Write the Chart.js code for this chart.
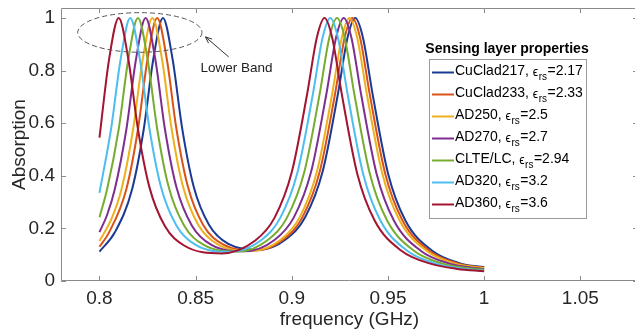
<!DOCTYPE html>
<html>
<head>
<meta charset="utf-8">
<script src="https://cdn.jsdelivr.net/npm/chart.js@4.4.0/dist/chart.umd.min.js"></script>
<style>
  html, body { margin: 0; padding: 0; background: #fff; overflow: hidden; }
  #wrap { width: 640px; height: 334px; position: relative; }
</style>
</head>
<body>
<div id="wrap"><canvas id="absChart"></canvas></div>
<script>
// sensing layers (legend order)
const names = ['CuClad217', 'CuClad233', 'AD250', 'AD270', 'CLTE/LC', 'AD320', 'AD360'];
const epsValues = ['2.17', '2.33', '2.5', '2.7', '2.94', '3.2', '3.6'];
const colors = ['#1b3a93', '#d95319', '#edb120', '#7e2f8e', '#77ac30', '#4dbeee', '#a2142f'];

// absorption curves (frequency in GHz)
const freqCuClad217 = [0.800, 0.808, 0.817, 0.823, 0.828, 0.833, 0.838, 0.843, 0.849, 0.857, 0.867, 0.883, 0.897, 0.907, 0.916, 0.924, 0.929, 0.933, 0.937, 0.942, 0.950, 0.959, 0.973, 0.988, 1.000];
const absCuClad217  = [0.112, 0.185, 0.350, 0.576, 0.844, 1.000, 0.844, 0.580, 0.358, 0.213, 0.141, 0.119, 0.159, 0.243, 0.415, 0.712, 0.926, 1.000, 0.925, 0.711, 0.410, 0.231, 0.115, 0.066, 0.053];

const freqCuClad233 = [0.800, 0.805, 0.814, 0.820, 0.825, 0.830, 0.835, 0.840, 0.846, 0.854, 0.864, 0.881, 0.8955, 0.9055, 0.9145, 0.9225, 0.9275, 0.9315, 0.9355, 0.9405, 0.9485, 0.9575, 0.9715, 0.9865, 1.000];
const absCuClad233  = [0.130, 0.185, 0.350, 0.576, 0.844, 1.000, 0.844, 0.579, 0.358, 0.212, 0.140, 0.116, 0.157, 0.242, 0.415, 0.712, 0.926, 1.000, 0.925, 0.711, 0.410, 0.231, 0.115, 0.066, 0.050];

const freqAD250 = [0.800, 0.806, 0.8115, 0.8175, 0.8225, 0.8275, 0.8325, 0.8375, 0.8435, 0.8515, 0.8615, 0.879, 0.894, 0.904, 0.913, 0.921, 0.926, 0.930, 0.934, 0.939, 0.947, 0.956, 0.970, 0.985, 1.000];
const absAD250  = [0.152, 0.232, 0.350, 0.577, 0.843, 1.000, 0.844, 0.579, 0.357, 0.212, 0.139, 0.114, 0.156, 0.241, 0.414, 0.712, 0.925, 1.000, 0.925, 0.711, 0.410, 0.231, 0.115, 0.066, 0.049];

const freqAD270 = [0.800, 0.804, 0.808, 0.814, 0.819, 0.824, 0.829, 0.834, 0.840, 0.848, 0.858, 0.8755, 0.891, 0.901, 0.910, 0.918, 0.923, 0.927, 0.931, 0.936, 0.944, 0.953, 0.967, 0.982, 1.000];
const absAD270  = [0.186, 0.252, 0.350, 0.577, 0.843, 1.000, 0.844, 0.579, 0.357, 0.211, 0.138, 0.113, 0.156, 0.241, 0.414, 0.712, 0.925, 1.000, 0.925, 0.711, 0.410, 0.231, 0.115, 0.066, 0.045];

const freqCLTE = [0.800, 0.804, 0.810, 0.815, 0.820, 0.825, 0.830, 0.836, 0.844, 0.854, 0.872, 0.8875, 0.8975, 0.9065, 0.9145, 0.9195, 0.9235, 0.9275, 0.9325, 0.9405, 0.9495, 0.9635, 0.9785, 0.990, 1.000];
const absCLTE  = [0.242, 0.350, 0.577, 0.843, 1.000, 0.844, 0.579, 0.357, 0.211, 0.138, 0.112, 0.156, 0.241, 0.414, 0.712, 0.925, 1.000, 0.925, 0.711, 0.410, 0.231, 0.115, 0.066, 0.050, 0.042];

const freqAD320 = [0.800, 0.806, 0.811, 0.816, 0.821, 0.826, 0.832, 0.840, 0.850, 0.868, 0.884, 0.894, 0.903, 0.911, 0.916, 0.920, 0.924, 0.929, 0.937, 0.946, 0.960, 0.975, 0.990, 1.000];
const absAD320  = [0.335, 0.577, 0.843, 1.000, 0.844, 0.579, 0.357, 0.211, 0.137, 0.111, 0.155, 0.240, 0.414, 0.712, 0.925, 1.000, 0.925, 0.711, 0.410, 0.231, 0.115, 0.066, 0.046, 0.039];

const freqAD360 = [0.800, 0.805, 0.810, 0.815, 0.820, 0.826, 0.834, 0.844, 0.8635, 0.881, 0.891, 0.900, 0.908, 0.913, 0.917, 0.921, 0.926, 0.934, 0.943, 0.957, 0.972, 0.986, 1.000];
const absAD360  = [0.545, 0.843, 1.000, 0.844, 0.578, 0.356, 0.209, 0.135, 0.105, 0.154, 0.240, 0.414, 0.712, 0.925, 1.000, 0.925, 0.710, 0.409, 0.231, 0.115, 0.066, 0.046, 0.037];

const xTicks = [0.8, 0.85, 0.9, 0.95, 1, 1.05];
const xTickLabels = ['0.8', '0.85', '0.9', '0.95', '1', '1.05'];
const yTicks = [0, 0.2, 0.4, 0.6, 0.8, 1];
const yTickLabels = ['0', '0.2', '0.4', '0.6', '0.8', '1'];

const freqs = [freqCuClad217, freqCuClad233, freqAD250, freqAD270, freqCLTE, freqAD320, freqAD360];
const absorb = [absCuClad217, absCuClad233, absAD250, absAD270, absCLTE, absAD320, absAD360];

const FONT = "'Liberation Sans', Arial, Helvetica, sans-serif";
const TEXT = '#262626';
const FRAME = '#8a8a8a';

// frame, inward ticks, annotation and legend with subscripts
const overlay = {
  id: 'overlay',
  afterDraw(chart) {
    const { ctx, chartArea: a, scales: { x, y } } = chart;
    ctx.save();

    ctx.strokeStyle = FRAME;
    ctx.lineWidth = 1;
    ctx.beginPath();
    ctx.rect(a.left + 0.5, a.top + 0.5, a.right - a.left - 1, a.bottom - a.top - 1);
    xTicks.forEach(v => {
      const px = Math.round(x.getPixelForValue(v)) + 0.5;
      ctx.moveTo(px, a.bottom); ctx.lineTo(px, a.bottom - 5);
      ctx.moveTo(px, a.top); ctx.lineTo(px, a.top + 5);
    });
    yTicks.forEach(v => {
      const py = Math.round(y.getPixelForValue(v)) + 0.5;
      ctx.moveTo(a.left, py); ctx.lineTo(a.left + 5, py);
      ctx.moveTo(a.right, py); ctx.lineTo(a.right - 5, py);
    });
    ctx.stroke();

    // dashed ellipse round the lower band peaks
    const cx = x.getPixelForValue(0.821), cy = y.getPixelForValue(0.945);
    const rx = x.getPixelForValue(0.821 + 0.0323) - cx;
    const ry = cy - y.getPixelForValue(0.945 + 0.0753);
    ctx.strokeStyle = '#555';
    ctx.setLineDash([5, 3]);
    ctx.beginPath();
    ctx.ellipse(cx, cy, rx, ry, 0, 0, Math.PI * 2);
    ctx.stroke();
    ctx.setLineDash([]);

    // arrow from label to ellipse
    const x0 = x.getPixelForValue(0.8672), y0 = y.getPixelForValue(0.852);
    const x1 = x.getPixelForValue(0.8551), y1 = y.getPixelForValue(0.928);
    const ang = Math.atan2(y1 - y0, x1 - x0);
    ctx.strokeStyle = '#333';
    ctx.beginPath();
    ctx.moveTo(x0, y0); ctx.lineTo(x1, y1);
    ctx.moveTo(x1 - 7 * Math.cos(ang - 0.4), y1 - 7 * Math.sin(ang - 0.4));
    ctx.lineTo(x1, y1);
    ctx.lineTo(x1 - 7 * Math.cos(ang + 0.4), y1 - 7 * Math.sin(ang + 0.4));
    ctx.stroke();

    ctx.fillStyle = '#222';
    ctx.font = '13.5px ' + FONT;
    ctx.textAlign = 'center';
    ctx.textBaseline = 'middle';
    ctx.fillText('Lower Band', x.getPixelForValue(0.8712), y.getPixelForValue(0.81));

    // legend
    ctx.font = 'bold 14px ' + FONT;
    ctx.fillStyle = '#000';
    ctx.fillText('Sensing layer properties', 507, 49);

    ctx.fillStyle = '#fff';
    ctx.fillRect(429, 59, 157, 159);
    ctx.strokeStyle = '#9a9a9a';
    ctx.strokeRect(429.5, 59.5, 157, 159);

    ctx.textAlign = 'left';
    names.forEach((n, i) => {
      const ry0 = 72.5 + i * 22;
      ctx.strokeStyle = colors[i];
      ctx.lineWidth = 2;
      ctx.beginPath();
      ctx.moveTo(432, ry0); ctx.lineTo(454, ry0);
      ctx.stroke();

      ctx.fillStyle = '#000';
      let tx = 455;
      ctx.font = '14px ' + FONT;
      const head = n + ', ';
      ctx.fillText(head, tx, ry0 - 1);
      tx += ctx.measureText(head).width;
      ctx.font = '12px ' + FONT;
      ctx.fillText('\u03f5', tx, ry0);
      tx += ctx.measureText('\u03f5').width + 0.5;
      ctx.font = '10px ' + FONT;
      ctx.fillText('rs', tx, ry0 + 5);
      tx += ctx.measureText('rs').width + 0.5;
      ctx.font = '14px ' + FONT;
      ctx.fillText('=' + epsValues[i], tx, ry0 - 1);
    });

    ctx.restore();
  }
};

new Chart(document.getElementById('absChart'), {
  type: 'line',
  data: {
    datasets: names.map((n, i) => ({
      label: n,
      data: freqs[i].map((f, k) => ({ x: f, y: absorb[i][k] })),
      borderColor: colors[i],
      borderWidth: 2,
      pointRadius: 0,
      fill: false,
      cubicInterpolationMode: 'monotone',
      order: names.length - i
    }))
  },
  options: {
    responsive: true,
    maintainAspectRatio: false,
    animation: false,
    layout: { padding: { top: 8, right: 2, left: 0, bottom: 0 } },
    plugins: { legend: { display: false }, tooltip: { enabled: false } },
    scales: {
      x: {
        type: 'linear',
        min: 0.78,
        max: 1.08,
        afterBuildTicks: s => { s.ticks = xTicks.map(v => ({ value: v })); },
        afterFit: s => { s.height = 53; s.paddingLeft = 0; s.paddingRight = 0; },
        grid: { display: false, drawTicks: false },
        border: { display: false },
        ticks: {
          padding: 6,
          autoSkip: false,
          maxRotation: 0,
          color: TEXT,
          font: { family: FONT, size: 19 },
          callback: (v, i) => xTickLabels[i]
        },
        title: {
          display: true,
          text: 'frequency (GHz)',
          color: TEXT,
          font: { family: FONT, size: 19 },
          padding: { top: 0, bottom: 3 }
        }
      },
      y: {
        type: 'linear',
        min: 0,
        max: 1.038,
        afterBuildTicks: s => { s.ticks = yTicks.map(v => ({ value: v })); },
        afterFit: s => { s.width = 61; s.paddingTop = 0; s.paddingBottom = 0; },
        grid: { display: false, drawTicks: false },
        border: { display: false },
        ticks: {
          padding: 6,
          color: TEXT,
          font: { family: FONT, size: 19 },
          callback: (v, i) => yTickLabels[i]
        },
        title: {
          display: true,
          text: 'Absorption',
          color: TEXT,
          font: { family: FONT, size: 19 },
          padding: { top: 8, bottom: 0 }
        }
      }
    }
  },
  plugins: [overlay]
});
</script>
</body>
</html>
